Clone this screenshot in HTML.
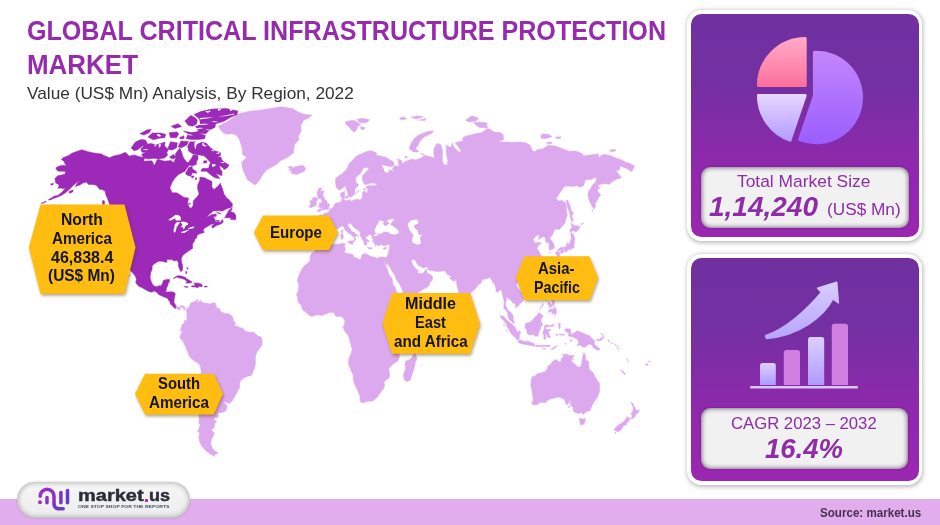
<!DOCTYPE html>
<html>
<head>
<meta charset="utf-8">
<title>Global Critical Infrastructure Protection Market</title>
<style>
html,body{margin:0;padding:0;}
body{width:940px;height:525px;position:relative;overflow:hidden;background:#fff;font-family:"Liberation Sans",sans-serif;}
.abs{position:absolute;}
.t{position:absolute;white-space:nowrap;transform-origin:0 50%;}
#band{position:absolute;left:0;top:498.5px;width:940px;height:26.5px;background:#E2ADEC;}
.pout{position:absolute;background:#fff;border-radius:14.4px;box-shadow:0.5px 1px 4px 0.3px rgba(0,0,0,.27);}
.pin{position:absolute;border-radius:10.5px;background:linear-gradient(180deg,#7030A0 0%,#7330A2 30%,#9427AE 75%,#9B27B0 100%);}
.box{position:absolute;border-radius:9.5px;background:#F1F1F1;box-shadow:inset 0 0 4px 1px rgba(40,10,50,.55),0 0 2px rgba(60,0,80,.5);}
#pill{position:absolute;left:17px;top:481.6px;width:172.5px;height:36px;border-radius:18px;background:linear-gradient(180deg,#f7f7f7,#ececec);box-shadow:inset 0 0 5px 1px rgba(0,0,0,.28),0 0 1.5px rgba(0,0,0,.3);}
</style>
</head>
<body>

<!-- world map -->
<svg class="abs" style="left:0;top:0" width="940" height="525" viewBox="0 0 940 525">
  <path fill="#DDA9EE" stroke="#DDA9EE" stroke-width="0.5" stroke-linejoin="round" d="M226.4 134.3L222.9 132.6L219.8 129.1L218.2 126.3L228.4 120.9L231.9 118.3L237.1 114.3L248.0 111.6L263.0 109.7L281.1 106.7L292.6 108.6L298.2 112.0L303.9 114.3L312.1 115.0L308.1 118.3L303.5 120.2L300.8 125.6L301.2 130.9L298.5 136.1L299.0 139.5L294.7 144.5L293.6 149.4L293.8 152.6L291.6 154.2L287.3 157.4L283.2 159.6L280.7 160.5L277.1 163.9L272.0 167.0L266.8 169.7L263.1 174.2L259.5 180.1L256.6 183.8L254.6 184.9L251.5 182.4L247.6 180.1L245.7 175.7L243.8 172.1L242.1 166.7L241.7 162.1L246.7 157.4L242.4 154.2L242.4 149.4L240.9 144.5L239.4 139.5L236.3 135.0L231.9 133.7ZM290.6 173.3L292.2 171.5L288.7 170.0L292.0 168.8L288.1 167.9L290.7 165.5L292.9 167.9L295.5 166.4L298.7 166.1L302.0 165.2L304.0 166.1L305.7 168.8L304.0 171.5L299.9 173.3L296.5 174.5L294.1 173.9ZM187.2 307.6L188.0 308.8L189.5 306.0L190.5 303.5L191.8 302.2L194.1 301.7L196.4 300.4L197.3 299.2L198.0 300.9L196.9 302.4L197.4 302.6L199.9 301.3L200.3 299.8L200.8 301.3L203.2 302.8L206.9 303.2L209.9 304.1L212.6 303.0L214.6 303.0L216.1 305.6L216.4 307.6L219.6 308.8L220.9 311.4L222.1 312.5L225.7 313.4L228.3 313.6L231.0 315.3L232.7 316.8L233.6 321.7L235.4 322.1L234.5 325.6L238.2 326.4L238.9 327.5L242.4 328.1L245.1 330.7L245.5 331.4L250.4 332.2L253.1 332.0L255.8 333.9L258.1 336.1L261.5 337.1L262.2 341.2L262.1 345.3L259.5 348.5L257.8 351.1L256.1 353.9L255.3 358.3L255.5 363.8L254.4 368.2L253.4 370.4L252.3 373.7L250.6 375.9L248.0 375.9L245.5 377.2L242.9 378.6L240.4 381.1L239.5 383.8L239.7 387.8L237.8 390.6L236.3 394.0L234.4 396.8L232.1 401.0L229.9 403.2L227.7 403.1L224.8 401.9L223.7 401.0L224.0 402.6L226.1 404.5L227.1 406.7L226.1 410.5L223.7 412.1L219.4 412.9L218.2 412.4L218.5 416.5L216.1 418.2L213.9 417.2L214.3 420.2L216.8 421.4L215.4 422.4L214.7 423.9L214.3 427.6L211.2 430.1L214.5 433.2L212.2 437.8L211.0 440.9L210.7 444.6L212.0 446.4L211.7 447.2L214.0 450.5L218.2 452.8L216.2 454.0L213.9 455.3L215.3 456.4L211.4 454.8L207.7 452.3L204.8 449.6L201.8 446.2L199.6 441.7L198.7 436.5L199.8 432.7L197.8 431.9L199.1 427.6L200.4 425.1L199.0 423.6L198.8 421.4L199.2 419.7L198.8 415.3L198.8 411.7L198.2 408.6L199.3 404.5L200.4 399.8L200.6 398.7L200.4 394.0L200.0 389.4L200.6 384.9L201.0 380.4L200.9 377.0L201.2 372.6L200.4 365.7L198.2 363.3L194.5 360.9L191.4 358.7L189.3 355.9L187.6 351.8L185.7 347.5L184.1 343.6L182.5 340.6L180.3 338.9L179.9 336.1L181.6 333.3L182.3 331.4L180.5 330.7L180.9 328.1L181.9 326.0L182.1 324.3L184.1 323.4L184.6 320.6L186.6 320.4L187.0 317.6L186.7 314.2L186.9 311.9L186.0 310.6ZM213.4 303.0L215.3 302.8L215.0 304.3L213.4 304.3ZM175.9 305.4L176.6 306.5L178.7 307.1L180.7 306.0L182.4 305.6L185.0 307.3L185.4 307.6L184.2 310.6L183.2 308.2L181.4 306.7L179.9 308.2L180.4 310.1L178.6 309.9L176.9 308.4L175.2 308.7ZM316.7 246.8L317.7 246.5L319.8 248.2L321.6 247.9L323.1 248.4L325.4 246.8L328.9 245.1L331.4 244.4L334.9 244.4L339.3 243.9L343.4 243.2L345.5 243.7L344.6 245.3L344.8 247.5L345.5 250.3L343.7 251.0L345.7 252.9L348.2 253.8L349.4 253.6L352.9 254.7L353.7 257.0L357.0 258.2L359.7 259.6L361.5 258.0L361.6 255.2L364.1 253.6L366.8 254.3L370.3 255.9L373.9 257.3L377.5 258.2L379.2 257.3L381.0 256.8L383.3 257.3L385.5 257.7L386.9 257.3L388.1 261.4L383.9 260.5L384.0 262.6L385.7 265.3L386.6 267.8L388.5 272.7L389.8 276.1L392.0 278.3L392.6 280.5L392.9 284.9L395.1 287.1L396.4 291.5L397.0 292.4L399.7 294.8L402.5 297.6L404.0 299.1L403.8 301.3L406.2 303.7L410.7 301.9L414.3 301.7L418.3 300.2L418.7 303.5L416.2 308.8L414.5 313.1L412.7 316.4L410.0 320.4L407.8 321.7L404.5 326.0L401.8 328.1L400.9 330.1L398.5 331.8L397.6 334.8L396.3 337.8L396.8 340.6L397.2 344.2L397.7 347.5L398.9 348.5L399.1 352.9L399.4 357.2L397.9 360.9L394.2 363.3L392.2 364.6L390.5 366.8L388.5 368.8L389.5 372.6L389.4 377.7L384.9 381.1L384.1 382.6L384.6 386.0L383.6 388.5L381.1 391.5L379.2 394.7L376.5 398.0L373.8 400.1L373.0 401.0L369.1 401.2L366.4 401.5L362.9 402.9L360.3 401.8L359.9 398.7L360.0 396.3L358.2 391.7L356.8 388.5L354.5 384.2L353.3 379.3L353.3 375.7L351.1 370.4L348.8 364.9L348.4 361.6L349.7 356.1L351.3 353.1L352.1 349.2L351.0 344.9L349.4 339.1L348.8 336.7L347.0 334.1L344.6 331.1L343.4 328.1L342.8 327.5L344.3 324.9L344.6 322.8L344.8 320.6L343.1 317.9L341.5 316.4L340.6 316.4L338.2 316.6L336.4 316.8L334.6 314.2L333.5 312.5L331.7 312.3L328.4 312.7L327.4 313.4L325.2 314.1L321.9 315.8L319.7 315.1L317.4 314.9L314.6 315.5L311.9 316.6L309.2 315.3L305.9 312.5L304.7 311.2L302.9 309.9L301.6 307.8L301.5 305.6L299.3 303.5L298.4 302.4L297.7 299.4L297.6 297.0L296.4 294.4L298.1 291.5L298.6 287.1L298.8 284.1L297.4 281.0L297.7 278.8L299.3 274.5L301.9 269.1L304.5 265.5L307.0 263.7L309.6 261.4L310.1 259.1L310.0 256.8L311.1 254.3L312.3 252.6L313.8 251.9L315.1 250.8L316.1 248.4ZM414.8 351.8L416.5 357.2L416.9 359.4L415.5 361.6L414.9 364.9L413.5 370.4L411.9 374.8L410.3 379.9L407.2 381.7L404.6 380.4L403.6 377.0L403.5 373.7L405.4 369.9L405.6 368.2L405.0 363.8L406.0 360.9L409.3 359.8L412.0 357.6L413.3 355.0ZM316.7 245.9L315.0 245.1L313.1 243.4L310.3 243.9L310.8 240.6L309.6 239.6L310.7 236.2L311.1 233.8L310.9 231.3L310.2 229.4L312.5 227.5L316.3 227.9L319.8 228.3L323.3 228.4L323.8 227.9L324.4 225.4L324.6 222.9L324.5 221.4L322.9 219.3L321.8 218.1L319.0 217.3L318.4 215.8L320.7 214.7L323.9 215.1L324.0 212.5L324.8 213.3L326.9 212.9L329.3 211.3L329.5 209.3L331.0 208.7L332.7 207.9L333.6 206.4L334.8 204.0L336.2 202.9L338.7 202.6L340.6 202.1L341.4 201.3L342.0 198.6L340.6 195.6L340.8 192.8L343.0 192.3L344.8 190.9L344.5 194.2L345.3 194.5L343.8 196.9L343.1 198.6L343.8 199.7L345.5 199.9L345.5 201.0L347.7 200.2L349.7 199.7L351.1 201.3L354.8 199.7L358.1 199.0L359.0 200.1L360.7 199.7L362.3 197.5L362.2 194.2L363.0 191.4L364.8 190.9L365.9 192.8L367.2 192.7L367.8 189.2L366.3 188.1L366.2 186.6L368.2 185.8L371.2 185.5L373.7 185.8L377.3 184.7L375.3 183.8L374.4 182.9L370.3 183.2L368.6 183.8L365.4 184.8L363.7 183.2L362.4 180.1L362.2 177.1L362.7 175.4L365.1 173.0L367.4 170.3L368.8 169.4L368.1 167.9L366.8 167.3L363.6 167.9L362.2 170.6L360.7 173.3L357.8 175.7L355.8 177.4L355.7 181.5L355.7 182.4L357.9 183.8L358.7 184.9L357.6 186.4L355.5 188.1L355.0 190.6L354.5 193.6L353.5 195.3L351.0 196.9L348.9 197.2L348.3 195.0L347.5 192.8L347.0 190.9L345.8 187.2L344.8 184.7L344.3 186.9L342.2 188.3L340.5 189.7L338.8 190.0L336.5 187.8L335.7 184.4L335.6 181.5L335.6 178.6L337.6 176.8L339.8 175.1L342.2 173.9L343.9 171.8L346.3 169.7L347.9 166.7L349.0 163.6L351.1 161.8L352.7 159.9L354.3 158.3L355.8 156.5L358.2 154.9L361.3 153.9L365.3 152.0L368.8 150.7L372.3 151.0L375.6 152.6L377.2 153.3L375.7 154.9L378.1 155.5L380.5 156.1L385.3 157.1L389.5 159.6L393.6 162.1L394.1 164.9L392.3 166.4L389.1 166.4L384.2 165.2L380.9 164.6L380.1 163.3L381.8 165.8L384.1 169.7L384.0 171.5L387.0 173.0L389.4 172.1L388.5 169.7L390.1 170.3L393.4 170.9L392.4 167.9L395.5 165.5L399.1 166.7L398.6 163.6L397.9 159.0L397.0 158.5L401.5 160.5L402.6 163.9L404.8 161.8L407.9 160.5L412.6 159.0L415.1 159.9L418.9 158.7L422.0 157.7L424.1 155.2L429.8 156.5L433.2 157.7L434.8 158.0L434.0 155.5L433.7 152.0L434.0 148.4L435.9 145.1L437.5 143.2L440.8 144.8L442.3 149.4L442.5 155.8L442.3 160.5L443.8 164.9L447.0 164.9L447.9 160.5L446.3 154.2L446.4 147.8L445.6 145.1L449.8 147.1L451.3 146.8L452.2 142.8L453.7 146.8L457.5 151.0L461.0 152.6L460.5 150.1L457.6 146.1L455.3 142.5L462.8 141.1L462.9 137.4L467.2 135.7L474.5 134.0L481.8 132.6L487.4 128.4L491.1 129.8L493.9 131.9L500.2 132.6L503.1 134.7L503.5 139.5L499.3 141.1L493.7 143.8L498.6 141.5L504.2 142.1L508.1 142.1L512.9 142.5L519.8 142.1L525.4 142.8L530.0 145.1L532.3 150.4L535.0 151.7L537.5 149.4L542.1 149.1L546.8 146.5L548.0 145.1L557.0 146.5L564.3 149.4L568.9 151.3L575.9 151.0L581.4 153.3L583.9 155.8L588.5 155.2L594.5 154.2L598.3 153.9L598.8 157.4L602.5 154.5L607.4 154.9L611.9 156.1L614.9 157.7L620.3 159.3L625.5 162.1L630.1 163.6L634.9 166.4L633.5 167.9L632.3 170.9L631.4 171.5L626.3 168.2L619.7 165.8L620.1 166.7L619.6 169.7L618.2 170.3L615.9 170.6L618.9 174.2L621.5 177.7L616.6 179.2L612.5 181.5L609.0 184.4L604.9 183.5L600.2 184.4L598.0 184.9L598.8 188.6L597.2 190.6L600.8 195.0L598.9 196.9L597.0 201.0L595.2 203.7L595.6 206.4L593.6 209.0L591.4 205.0L589.0 199.7L587.8 194.2L588.9 190.6L590.8 188.6L592.2 185.2L594.8 182.9L596.4 180.1L596.2 177.1L593.4 178.6L590.9 179.5L585.5 179.5L583.9 184.9L583.3 185.8L579.6 187.2L577.5 185.8L572.7 186.4L568.5 186.1L564.4 186.4L561.4 190.6L559.0 194.2L556.0 198.8L559.0 201.0L562.3 200.5L565.8 203.2L566.3 206.4L566.4 210.3L567.2 215.5L565.8 219.3L564.9 223.1L562.1 226.4L559.3 229.4L555.6 229.1L553.8 231.1L552.9 234.3L551.0 236.7L549.5 237.9L551.2 240.1L553.8 243.9L554.3 247.5L553.8 248.4L551.8 249.4L549.4 250.1L549.0 247.5L549.2 245.1L548.7 242.7L546.1 242.0L545.2 241.1L545.6 237.9L543.8 236.7L540.7 237.9L538.7 239.6L539.3 235.5L537.6 234.8L535.3 237.2L533.0 238.9L534.3 241.5L535.4 243.2L537.9 242.3L541.5 243.0L539.1 244.9L538.1 246.3L536.7 248.7L538.8 251.0L540.3 254.5L542.4 256.8L542.0 259.1L540.8 259.6L543.0 260.3L542.9 263.7L541.3 266.0L540.1 269.4L538.1 272.5L535.6 275.0L533.1 276.8L530.5 277.6L528.7 278.3L526.1 279.4L524.2 279.9L524.0 282.1L522.9 279.4L520.7 279.0L518.1 280.5L517.5 282.3L516.3 284.9L517.7 287.6L520.3 291.1L522.4 293.1L523.3 297.0L523.5 300.2L521.7 302.6L519.4 303.7L519.0 305.6L515.6 307.6L515.8 304.5L514.5 303.5L512.7 303.0L511.1 300.2L508.4 298.7L507.9 297.2L506.5 297.4L506.4 300.2L505.5 303.0L505.6 306.0L507.1 307.8L507.9 310.6L509.7 311.4L511.2 312.7L513.2 315.7L513.3 319.6L514.7 323.0L513.5 323.2L511.3 321.3L509.5 319.6L508.1 316.4L507.6 313.6L507.2 312.1L505.5 309.5L503.8 308.8L503.9 305.6L504.2 303.5L504.1 300.2L503.0 297.0L502.2 293.7L501.8 290.4L500.3 289.8L497.9 292.0L495.9 291.5L495.9 288.2L495.0 284.9L493.1 282.7L491.1 279.4L490.6 277.4L488.3 277.9L485.7 279.0L483.0 279.2L482.0 281.0L481.0 283.0L478.8 284.3L477.1 286.5L474.2 290.0L472.3 291.5L470.5 293.1L470.5 297.0L470.9 297.8L470.3 301.3L470.2 303.9L468.8 306.0L467.3 307.1L466.2 308.7L464.2 306.7L463.6 304.5L462.7 301.5L461.1 298.3L459.7 294.1L458.7 292.2L457.9 289.3L456.8 284.9L456.5 281.6L456.2 279.4L456.0 278.3L455.4 280.5L453.2 281.2L450.3 278.8L449.7 277.6L451.9 276.3L449.2 275.4L446.8 274.1L445.8 272.1L444.8 270.7L441.3 271.2L436.8 271.4L434.1 270.9L431.0 270.5L428.3 269.8L427.7 267.3L426.4 266.9L423.2 268.0L419.8 266.0L417.8 265.1L416.4 262.6L414.9 259.8L412.7 259.6L411.4 260.7L411.4 261.9L412.8 264.8L414.3 267.1L415.6 268.2L416.6 270.5L416.8 272.1L417.0 269.1L418.2 270.9L417.7 272.7L419.0 273.6L422.6 273.4L424.8 270.9L426.2 269.1L426.7 268.6L426.8 271.6L427.4 273.2L430.9 274.8L433.1 277.2L431.5 281.2L429.7 282.3L429.6 284.9L427.5 287.1L425.2 288.2L423.1 289.3L419.9 291.5L416.0 293.7L413.7 295.9L409.7 297.2L407.0 298.5L404.3 298.7L403.7 297.0L403.0 293.7L402.5 290.4L401.0 287.1L399.2 283.6L396.2 279.4L394.8 275.0L392.6 272.3L391.1 269.4L389.2 266.0L387.9 264.2L388.2 261.4L387.2 264.8L387.0 265.4L385.1 263.2L383.9 260.5L383.3 257.3L386.0 257.7L386.9 257.0L387.7 255.2L388.2 253.1L388.8 251.2L389.4 248.2L389.6 246.3L389.9 244.6L388.6 244.9L387.0 244.4L385.1 246.1L382.5 245.1L380.2 244.3L379.7 245.6L377.6 245.6L375.8 244.4L374.3 243.9L374.0 242.0L372.3 240.8L373.4 239.6L373.0 238.4L371.9 237.9L372.1 236.7L371.7 235.0L369.9 234.5L368.2 235.0L367.9 236.7L367.2 236.2L366.3 235.5L365.8 236.7L366.3 238.4L367.1 239.9L368.3 241.1L368.3 242.3L367.4 241.5L366.6 241.8L366.9 243.2L366.8 245.1L365.8 245.3L364.3 244.4L363.6 242.3L364.3 241.1L363.2 240.8L362.5 239.4L361.6 237.7L361.1 237.0L360.2 235.5L360.3 233.1L360.1 232.1L358.6 230.8L356.8 229.4L354.9 228.1L352.8 226.4L352.1 224.4L351.2 223.6L350.5 224.9L350.0 222.9L347.9 223.4L347.8 225.6L348.4 227.1L350.0 228.1L351.1 230.6L352.8 232.1L354.6 232.1L354.2 233.3L356.0 234.0L357.7 235.3L358.6 236.5L358.3 237.2L357.6 236.0L356.3 235.5L355.3 236.7L355.1 237.7L356.2 239.1L355.1 240.3L354.4 241.7L353.7 241.5L353.7 240.9L354.4 239.6L354.3 237.9L353.5 236.6L352.5 236.2L351.6 235.3L351.1 234.8L350.0 233.7L348.3 233.2L347.6 232.3L346.5 231.1L345.7 230.8L344.6 229.4L344.3 228.1L343.9 226.9L342.6 226.1L341.7 225.9L340.6 227.0L339.4 227.4L338.4 228.4L337.2 229.1L335.6 228.6L333.7 228.1L332.5 228.6L331.6 229.9L331.9 231.1L331.9 232.1L330.2 233.3L328.0 234.3L327.7 235.0L326.4 236.7L325.7 238.2L326.6 239.7L325.3 240.8L324.9 242.5L323.0 243.9L322.3 244.6L320.0 244.6L318.4 244.6ZM317.0 211.5L319.1 209.0L321.7 208.5L322.2 207.7L321.3 207.9L319.7 207.4L317.8 206.6L319.9 205.0L318.9 204.2L319.1 202.9L321.6 202.9L321.9 201.3L321.1 199.7L321.4 198.6L318.7 199.1L318.4 198.3L319.1 196.7L317.6 197.5L317.7 194.7L316.7 193.6L317.6 191.4L318.9 188.3L322.2 188.2L320.3 191.3L323.8 190.9L324.1 191.4L323.6 192.5L322.7 194.7L321.7 195.6L323.5 195.8L324.3 197.8L324.9 199.4L326.8 200.7L327.1 202.1L327.4 203.7L329.1 203.8L329.8 205.0L328.8 206.9L328.0 207.7L329.2 208.1L329.0 208.7L327.3 209.6L324.7 209.6L323.3 210.0L321.6 209.8L320.6 211.1L317.8 211.7ZM316.4 202.9L316.0 205.8L312.7 206.9L310.1 207.8L309.2 206.1L310.4 204.8L311.0 203.4L310.0 202.4L310.1 200.5L312.6 200.2L312.3 199.1L313.2 197.8L314.7 197.3L316.7 197.8L317.7 199.4L317.7 200.2L316.6 201.0ZM345.8 196.4L348.2 195.3L348.0 197.5L346.8 198.6L345.5 197.5ZM343.5 196.9L345.2 196.9L345.0 198.3L343.8 198.3ZM357.5 191.7L358.8 190.2L358.5 192.0L357.5 192.8ZM354.5 194.7L355.7 192.0L354.9 194.5ZM363.6 189.2L365.8 188.3L365.3 189.5L363.8 190.0ZM345.0 122.0L352.2 120.2L356.0 121.3L360.6 124.5L357.6 126.6L356.9 129.1L354.7 132.3L351.6 130.2L349.6 127.4L346.3 124.5ZM356.7 119.4L361.9 118.3L369.5 119.8L366.6 122.7L359.8 122.7ZM360.7 126.6L365.3 127.7L363.8 129.8L360.7 129.1ZM399.3 118.0L403.7 116.9L406.9 119.1L401.0 119.8ZM411.2 117.2L418.4 115.7L423.0 116.9L415.9 119.1ZM419.0 120.2L426.2 118.3L425.0 120.5ZM409.1 148.4L411.0 143.5L414.3 138.4L417.8 135.4L423.7 133.0L429.5 130.9L434.1 131.2L430.0 134.3L424.2 136.7L420.1 141.1L418.2 145.1L415.7 148.4L419.0 152.0L413.5 152.0ZM420.7 153.3L423.7 154.2L422.5 155.2ZM404.8 156.5L407.2 156.5L406.9 158.0L405.3 158.0ZM465.5 120.2L472.0 115.7L478.6 118.3L476.1 120.9L468.9 122.0ZM473.5 122.7L479.4 122.0L487.2 123.1L486.5 126.3L479.1 127.4ZM480.6 127.4L488.0 126.3L486.9 128.1ZM540.6 136.7L542.0 134.0L548.3 134.3L552.1 136.4L546.6 138.4L541.9 138.4ZM555.4 137.1L560.7 136.7L560.5 138.4L555.9 138.4ZM546.4 142.8L550.8 141.8L552.1 143.5L547.5 143.8ZM609.4 150.1L615.4 149.4L615.8 151.0L610.9 151.7ZM566.4 200.2L567.5 199.9L569.8 205.0L571.0 210.3L574.0 213.7L571.7 214.7L572.4 218.6L573.8 220.4L572.4 220.4L571.8 222.1L570.6 218.1L569.7 212.9L567.8 207.7L566.6 202.9ZM591.8 209.8L593.1 210.0L592.2 211.3ZM580.7 223.9L583.5 222.9L582.6 224.6ZM578.7 226.9L580.2 225.6L579.7 227.4ZM598.7 187.2L600.5 187.8L599.5 188.6ZM570.9 233.1L569.8 230.1L570.2 228.6L572.0 228.9L571.3 223.1L574.1 225.6L578.2 226.1L579.6 228.4L576.3 231.8L575.9 232.0L572.8 230.4L571.8 231.1L572.1 232.6ZM572.9 233.3L573.5 235.5L574.8 237.9L574.5 240.8L574.2 243.9L573.9 246.3L574.4 247.0L573.1 248.9L572.5 247.7L571.6 248.4L571.3 249.6L570.2 249.6L568.1 249.6L567.8 250.3L567.1 251.2L566.4 252.3L565.0 251.2L565.0 250.3L565.0 249.4L562.8 249.6L561.1 250.3L560.1 250.5L557.7 251.1L557.6 250.1L559.1 248.7L560.7 247.5L563.3 247.2L565.6 247.2L565.8 246.3L566.7 244.4L566.6 243.0L567.5 242.7L567.6 244.4L569.7 243.2L570.2 241.5L571.2 239.1L571.1 236.7L570.7 235.3L571.1 233.8L572.3 233.8ZM560.4 252.4L560.9 251.0L562.9 250.1L564.2 250.5L564.3 251.5L563.6 252.6L562.3 252.2L561.7 253.9ZM557.6 251.2L559.1 251.9L559.8 253.3L559.3 256.8L558.2 258.0L557.2 257.0L556.9 255.2L555.8 254.0L555.5 252.6L556.8 251.9ZM554.2 269.1L555.1 267.6L554.7 268.7ZM549.4 252.6L550.6 252.2L550.2 252.9ZM543.5 270.9L544.1 271.6L543.7 275.0L542.9 278.5L541.5 276.1L541.4 273.9L542.5 271.5ZM521.5 284.3L523.0 282.7L524.9 282.5L525.6 283.6L524.6 285.8L523.1 286.7L521.6 285.8ZM470.2 305.0L470.9 305.0L472.8 307.6L474.1 310.4L473.8 312.1L471.8 313.3L470.7 312.5L470.1 308.8L470.4 306.7ZM422.0 298.7L424.2 298.9L423.3 299.6L422.2 299.4ZM348.0 241.5L349.5 241.1L353.6 240.8L352.7 243.2L352.7 244.6L351.3 243.9L348.1 242.5ZM340.6 234.3L342.4 233.7L343.4 235.5L343.0 238.6L341.8 239.4L340.9 238.6L341.0 236.0ZM341.3 230.8L342.7 229.4L342.9 231.6L342.4 233.3L341.3 232.1ZM367.5 247.2L370.2 247.7L372.5 247.9L372.3 248.7L369.7 248.9L367.6 248.1ZM383.1 248.5L384.3 247.8L387.1 247.0L386.1 248.7L384.4 249.6L383.3 249.1ZM374.9 245.8L375.8 245.3L375.5 246.5ZM366.9 239.4L369.4 241.3L368.7 241.5ZM371.6 238.6L372.8 238.4L372.3 239.1ZM544.5 287.5L547.4 287.5L547.8 290.8L546.8 293.5L547.1 296.3L548.9 296.7L551.4 297.8L551.7 300.4L550.2 299.6L548.7 298.2L547.2 297.6L545.4 297.8L545.1 295.9L544.0 295.2L543.4 292.4L544.5 291.7L544.3 289.7ZM554.3 306.5L556.1 309.3L556.7 311.9L556.0 314.0L554.6 315.5L555.1 312.5L552.4 314.2L552.0 312.5L550.9 311.2L548.6 312.7L548.7 310.3L550.8 308.8L553.2 309.3ZM552.1 300.6L553.9 300.6L554.7 303.4L553.9 305.6L553.2 306.0L552.4 303.0ZM548.0 302.1L550.0 302.6L550.6 305.0L550.4 308.0L549.1 307.1L549.2 305.0L547.9 305.0ZM550.6 305.2L551.6 303.4L552.7 306.0L551.6 306.9ZM544.7 298.5L546.9 298.9L546.5 301.3L545.7 300.6ZM539.6 309.5L543.6 304.7L543.1 303.4L541.8 306.0L539.6 309.1ZM526.0 323.2L529.1 322.4L532.2 320.9L534.0 317.9L536.7 315.7L538.9 312.5L540.6 313.8L543.4 316.1L541.1 318.5L540.9 321.1L543.1 325.4L541.1 325.8L540.4 329.2L538.8 332.4L538.0 336.1L535.1 336.3L533.1 334.6L530.0 335.0L527.1 333.7L526.8 330.3L525.2 328.1L525.0 325.4ZM500.0 315.5L504.0 316.4L506.2 319.4L509.2 322.1L511.9 323.9L514.1 326.0L515.5 327.9L516.8 331.4L519.5 332.9L519.5 335.0L519.0 339.9L516.9 340.1L516.3 338.2L512.8 335.6L510.2 332.2L509.2 329.4L506.8 326.4L506.1 323.6L503.5 320.4L501.3 318.3ZM518.1 331.1L519.9 331.1L520.8 333.9L519.5 333.5ZM503.4 324.5L504.8 325.6L504.1 326.2ZM506.1 329.6L507.3 330.9L506.8 331.4ZM517.9 342.1L519.6 340.1L521.2 340.1L523.9 341.4L528.3 341.2L531.5 342.5L534.7 344.0L534.5 346.2L529.2 345.3L523.8 344.2L520.0 343.4ZM535.6 345.1L539.2 345.3L542.8 345.3L550.1 345.1L550.1 346.4L541.0 346.6L535.7 346.4ZM550.8 349.6L553.6 347.2L557.9 345.5L556.4 347.0L552.7 349.4ZM542.7 347.9L546.0 348.7L544.5 349.4L542.7 348.3ZM544.6 325.8L546.4 324.7L550.4 325.5L553.7 324.3L554.4 324.5L552.8 326.6L550.4 326.4L546.8 326.5L545.1 329.0L547.7 329.4L550.9 329.4L550.0 330.9L548.0 331.6L549.1 334.6L550.7 337.1L549.0 337.8L547.8 337.6L546.7 334.4L545.6 333.7L545.5 339.3L543.9 339.3L543.8 335.0L542.7 333.3L543.7 330.1L544.6 327.1ZM558.6 323.2L559.5 323.0L560.7 324.3L559.5 325.8L560.7 326.9L559.3 329.2L558.7 326.4ZM559.4 333.9L564.5 334.4L564.0 335.4L559.4 334.8ZM555.8 334.1L558.0 334.6L557.0 335.6L555.8 335.0ZM570.6 339.3L571.7 339.9L571.1 342.1L570.4 341.0ZM565.2 342.9L566.1 343.6L565.3 344.7L564.8 344.0ZM564.9 329.2L567.6 328.4L570.4 329.2L570.7 332.4L572.1 334.6L574.9 332.2L577.4 330.7L580.3 332.0L583.1 333.1L586.7 334.8L589.4 335.6L591.7 338.2L593.8 340.1L595.2 341.9L593.7 342.1L594.2 343.6L595.8 345.9L597.7 347.0L600.3 349.6L598.8 350.3L595.2 349.2L593.5 347.9L591.8 345.1L589.1 344.0L587.3 345.3L585.4 347.2L582.7 347.0L580.0 344.9L576.7 345.5L578.8 342.9L577.5 339.3L573.0 337.1L568.5 336.1L568.2 333.9L569.8 332.9L566.7 332.2L564.9 330.5ZM596.2 339.5L599.6 339.3L603.0 336.5L603.5 338.0L600.7 340.8L597.4 340.8ZM600.8 333.1L603.9 335.6L604.8 337.6L604.1 336.1L600.8 333.5ZM607.8 339.3L609.9 342.1L608.6 341.6ZM611.1 342.5L612.7 343.4L611.8 343.8ZM616.4 347.5L618.5 348.5L617.0 348.5ZM618.4 345.5L619.4 347.5L618.6 346.8ZM614.5 343.8L616.8 345.5L615.4 345.1ZM626.7 358.3L627.6 359.6L626.9 359.8ZM627.6 360.5L628.5 361.6L627.8 361.8ZM620.9 369.5L623.3 371.5L625.7 374.4L624.4 374.4L621.1 370.6ZM645.4 364.0L647.8 363.8L647.5 365.3L645.5 365.1ZM648.4 361.6L650.6 360.9L649.6 362.2ZM584.2 352.7L585.4 356.0L586.0 360.2L588.6 361.5L588.7 364.8L589.5 369.7L593.2 372.6L594.6 376.0L596.5 379.3L599.4 383.3L599.6 387.2L599.7 391.0L597.9 396.0L595.9 399.4L593.9 402.3L591.9 405.7L590.3 410.0L590.0 410.7L586.5 411.6L583.3 414.4L581.2 412.7L580.8 412.3L578.5 413.7L575.3 412.5L573.5 411.4L573.0 408.4L572.8 406.6L571.3 406.3L571.6 404.5L570.2 405.4L570.1 402.7L571.2 400.5L571.1 399.6L569.4 402.0L567.1 404.7L566.0 403.8L564.8 400.5L564.2 398.7L561.4 398.2L560.1 397.1L556.3 397.4L550.9 398.9L547.3 400.5L546.1 402.5L543.4 402.5L540.1 402.5L536.4 405.0L532.9 404.7L531.5 403.4L532.9 401.1L533.2 398.2L532.4 394.9L532.1 391.2L531.4 387.9L530.7 385.1L531.0 382.9L531.0 381.2L531.9 377.8L532.9 376.0L533.7 377.1L535.3 375.4L537.7 373.5L540.9 372.9L545.3 371.4L547.6 368.4L547.9 365.9L549.3 364.6L550.2 366.5L550.4 364.0L553.4 360.8L556.3 359.4L558.6 361.7L560.9 361.5L561.2 359.0L563.1 356.5L565.3 354.0L566.7 354.2L568.3 355.0L571.2 355.6L574.2 355.4L572.5 358.1L571.4 361.3L573.9 363.4L576.0 365.2L577.6 366.9L580.3 366.9L581.6 363.8L582.2 359.6L582.8 356.5L583.5 353.3ZM579.7 418.1L582.5 419.0L585.5 418.3L585.1 421.1L583.8 424.0L581.8 424.9L580.5 424.7L579.8 421.6L579.4 419.3ZM568.0 406.6L570.0 406.6L569.6 407.2L568.0 407.2ZM562.5 354.2L564.5 354.0L563.9 355.0L562.7 355.0ZM573.1 359.2L574.0 359.2L573.8 360.2L573.1 360.0ZM631.3 401.9L632.4 403.3L633.6 404.1L633.8 407.6L635.0 406.9L635.4 409.5L637.3 410.5L639.9 409.7L638.3 412.1L637.9 413.1L635.9 414.1L635.2 416.5L631.9 419.2L631.0 418.5L632.3 416.3L632.1 414.8L630.6 413.6L632.3 412.4L633.2 409.3L632.9 406.7L631.6 403.8ZM628.0 416.5L628.2 418.5L630.5 417.7L629.7 419.7L628.6 421.2L626.6 423.1L626.7 424.6L623.3 425.9L621.2 429.9L618.8 431.6L616.6 431.6L615.4 430.6L613.7 429.9L616.8 426.6L618.4 425.1L621.1 423.6L623.3 422.1L625.2 419.4L626.7 417.5ZM615.0 432.2L616.2 432.4L615.6 433.4L614.8 433.2Z"/>
  <path fill="#9C29B7" stroke="#9C29B7" stroke-width="0.5" stroke-linejoin="round" d="M55.7 167.9L59.1 166.1L63.5 165.2L66.7 166.1L64.7 163.3L64.2 161.5L61.4 159.4L63.0 157.7L69.2 155.2L71.7 153.3L81.7 149.7L88.0 151.7L93.9 153.0L101.4 153.9L104.0 155.5L109.6 157.7L113.3 156.1L120.2 154.5L125.3 152.3L129.2 156.1L134.4 154.9L138.7 156.5L144.7 157.7L143.6 161.2L151.7 160.8L154.1 163.9L157.8 159.3L164.5 161.2L171.0 160.5L173.7 162.7L175.7 157.7L175.5 153.6L179.8 148.1L181.8 152.6L182.6 155.8L184.2 159.0L186.7 162.1L188.1 162.7L191.5 158.3L193.1 154.9L197.8 155.2L198.1 159.0L196.3 162.1L196.6 164.2L193.1 165.8L189.2 165.2L186.9 168.2L184.9 171.2L180.9 173.3L179.0 174.2L175.9 177.1L172.5 181.5L169.9 187.8L172.1 192.8L176.7 192.8L179.7 194.5L184.1 197.5L188.5 198.0L187.5 203.7L189.2 206.9L190.9 208.5L193.1 205.6L193.2 201.0L197.8 196.1L199.0 193.4L197.5 188.6L197.8 184.4L199.9 180.1L199.8 177.1L204.5 177.7L209.0 180.1L212.0 181.5L211.9 187.2L214.0 189.5L218.4 185.8L220.3 183.2L222.4 188.6L224.1 194.2L226.9 198.3L229.2 199.7L229.9 201.0L232.4 203.7L232.2 206.4L230.7 207.7L227.2 208.5L222.6 211.1L217.5 210.8L213.2 211.1L209.4 214.2L206.3 217.5L203.9 219.8L207.2 217.0L211.9 214.5L216.2 213.9L216.3 216.3L213.3 216.8L214.7 218.8L215.3 221.4L216.9 222.1L220.3 222.6L222.4 219.3L223.3 221.9L221.0 223.9L216.5 225.6L212.7 228.1L211.6 227.1L212.5 225.4L215.0 223.6L213.2 223.9L210.5 224.6L206.8 226.9L204.6 227.9L203.2 230.4L204.4 232.3L202.5 233.1L199.8 233.8L197.0 235.3L196.7 237.9L194.7 239.6L194.3 241.5L192.5 243.9L192.5 246.3L192.8 248.2L190.9 249.6L188.3 251.2L185.8 252.9L182.5 255.7L181.2 259.1L181.6 262.6L182.3 264.2L182.8 267.6L182.1 270.9L180.6 271.4L179.5 269.1L178.3 265.5L178.4 262.6L176.8 260.3L175.5 260.7L173.7 261.0L172.1 259.4L169.4 259.6L166.7 259.8L167.0 262.3L164.7 262.1L162.1 261.2L158.6 261.2L156.7 262.3L153.8 264.2L152.2 266.0L152.0 269.4L150.7 272.7L150.1 277.6L150.9 280.8L152.6 284.5L154.8 286.3L156.2 286.7L159.0 285.8L160.8 286.0L162.6 283.2L163.2 280.5L166.7 279.4L169.4 279.4L169.5 281.6L168.1 283.8L167.4 286.5L166.4 288.2L166.4 290.4L165.1 291.7L167.6 292.0L171.2 291.7L173.9 292.2L175.3 293.7L174.6 297.0L174.1 300.2L174.0 302.4L175.2 304.5L175.9 305.4L175.2 308.7L175.0 308.2L173.8 307.6L171.7 305.0L170.1 303.9L170.2 302.2L168.1 299.4L167.1 298.1L164.6 297.2L162.0 296.1L159.0 294.8L156.1 291.7L154.3 291.1L151.3 292.2L147.8 290.9L145.2 289.6L141.7 287.4L139.1 286.5L136.6 284.1L135.7 281.9L136.5 279.4L135.5 276.5L133.1 273.2L130.2 270.3L129.5 267.1L127.8 264.8L125.6 261.4L124.8 258.0L122.4 256.4L122.0 259.1L124.0 263.0L125.8 267.1L127.2 270.5L128.1 273.4L129.3 275.6L128.5 276.3L127.9 275.0L125.1 272.5L125.1 269.4L123.0 267.6L121.0 265.3L122.3 263.5L120.0 259.6L118.9 256.4L118.3 254.3L116.7 251.0L113.0 249.8L111.5 244.9L111.0 242.0L109.5 237.9L109.1 235.7L110.2 231.8L110.0 229.4L112.6 221.4L112.7 215.8L115.5 216.3L115.9 218.6L116.7 216.3L116.0 214.2L114.1 211.6L110.5 209.0L109.8 205.0L108.3 201.0L107.4 198.3L106.0 195.6L105.2 191.4L102.4 189.5L99.8 189.5L96.3 185.2L92.4 184.4L88.3 184.4L86.6 182.1L83.0 182.9L79.8 184.9L75.4 186.6L77.2 182.9L80.4 180.9L76.6 182.4L72.9 185.8L70.3 188.6L65.5 192.8L61.2 195.6L56.3 197.5L52.5 198.8L48.9 199.7L54.3 196.1L57.8 195.6L62.6 191.4L65.5 188.1L63.1 188.6L60.5 188.1L57.9 188.3L59.1 185.8L58.5 184.4L55.7 182.9L55.2 180.1L54.9 178.6L57.7 175.7L61.2 175.1L64.8 174.2L65.8 171.5L62.7 171.2L58.8 171.2L57.2 170.6ZM173.2 278.5L176.8 276.1L177.7 275.8L181.3 275.9L185.7 277.6L186.5 278.8L189.6 280.3L192.2 282.2L189.8 283.0L185.8 283.1L187.0 281.2L184.6 279.4L181.1 278.3L178.8 277.9L177.1 277.0L175.0 278.1ZM191.6 285.8L195.2 285.8L194.6 284.3L193.6 283.2L196.6 283.0L199.8 283.4L201.4 284.3L202.4 285.6L202.0 286.7L199.7 286.2L196.9 288.0L196.2 286.9L192.6 286.9L191.4 286.4ZM184.5 286.2L188.1 286.8L187.0 287.5L184.7 287.0ZM204.6 286.0L207.4 286.3L207.0 287.1L204.5 287.1ZM185.8 271.4L186.7 271.6L186.7 273.9L185.6 273.2ZM186.8 267.3L188.2 268.2L187.7 269.4L187.1 268.5ZM224.7 217.8L227.1 213.4L229.0 210.3L232.3 207.4L231.6 210.3L230.2 211.6L231.9 211.9L234.3 212.9L235.8 215.2L236.0 217.8L235.1 220.2L233.6 219.6L230.5 219.6L231.2 218.1L227.8 217.8ZM216.5 211.9L221.0 213.9L218.0 213.4ZM215.6 220.1L219.7 220.7L218.7 221.9L216.5 221.1ZM108.0 209.5L112.9 211.6L115.1 215.8L112.6 215.5L111.1 213.4L108.2 211.1ZM102.6 200.5L104.6 201.0L104.2 205.8L102.5 203.7ZM69.1 191.4L73.1 190.0L73.0 191.7L69.5 193.4ZM50.8 183.8L53.5 183.5L52.8 184.9L50.8 184.9ZM48.6 199.4L52.0 198.3L52.1 199.1L48.9 200.2ZM43.2 202.4L46.2 201.0L46.1 201.8L42.9 203.2ZM41.0 203.4L42.9 202.4L42.6 203.2ZM229.0 164.9L227.5 167.6L223.9 169.7L223.3 168.2L219.0 165.2L220.6 169.7L222.0 171.2L221.9 175.7L215.9 173.5L219.9 178.6L215.9 178.0L212.9 176.6L210.0 174.2L206.5 171.2L200.8 171.2L202.2 168.5L208.7 168.2L209.3 165.2L210.6 162.7L208.0 159.6L204.0 155.8L201.0 155.2L194.1 154.2L191.9 153.3L188.5 151.0L187.7 146.1L190.0 141.8L196.2 141.8L196.3 144.5L202.3 142.1L206.7 143.5L208.6 145.8L211.1 148.4L215.3 151.0L220.5 152.6L220.6 156.5L222.2 160.5L225.1 162.7ZM141.0 149.1L144.7 144.8L150.6 143.5L156.4 144.8L159.8 143.8L165.0 142.1L164.6 146.1L168.4 149.4L166.8 152.6L167.6 155.2L164.5 158.0L158.7 159.0L154.0 158.3L147.5 159.0L143.2 157.4L141.7 154.2L146.3 152.3L150.9 152.6L142.3 152.3L141.2 151.0ZM131.1 147.9L135.4 142.1L141.0 139.5L145.4 140.1L147.5 143.5L141.8 146.5L137.6 149.7L134.2 150.7ZM148.0 137.1L152.4 133.0L160.0 133.0L165.7 134.3L164.7 137.8L160.0 138.1L153.3 139.8ZM139.9 133.7L147.3 129.8L151.2 129.5L149.4 132.6L144.0 135.0ZM170.2 137.4L169.3 132.6L177.2 131.9L178.8 134.3L176.3 137.8L172.5 137.8ZM168.1 147.8L170.5 141.8L177.3 142.8L176.7 147.8L172.2 150.1L168.4 149.4ZM178.2 147.1L180.8 141.1L188.5 141.5L186.8 145.1L181.4 147.8ZM169.5 157.1L173.4 154.5L176.1 156.5L173.8 159.0L170.8 158.3ZM185.9 172.7L188.6 167.6L192.1 166.4L192.4 168.8L196.0 171.2L196.8 173.3L192.4 172.7L190.8 176.3L187.8 175.4L185.6 173.9ZM186.1 138.8L188.2 133.7L183.5 131.2L192.3 132.6L198.3 133.0L205.4 135.4L204.7 138.8L198.3 139.5L192.1 139.5ZM192.2 133.0L198.9 130.9L195.4 126.6L199.9 123.8L198.9 118.7L194.0 114.6L200.7 111.6L211.7 109.0L226.5 108.6L237.8 110.9L237.1 114.6L232.2 116.5L223.8 121.3L215.7 123.8L214.9 127.4L209.8 129.8L205.8 133.7L199.8 133.3ZM184.8 120.9L190.8 115.4L197.5 118.3L197.8 120.2L197.6 123.8L192.4 126.3L188.2 125.2ZM171.2 126.3L178.0 123.8L181.7 126.6L175.1 128.4ZM179.4 137.8L183.8 135.7L184.2 138.4L180.6 139.1ZM191.7 176.0L194.2 176.0L192.9 178.0L191.4 177.4ZM195.5 177.7L197.0 178.0L196.2 179.8L195.3 179.5ZM203.8 160.8L207.0 160.8L206.5 163.0L203.6 163.0ZM188.1 203.4L190.6 203.4L190.1 204.2L188.3 204.2ZM45.0 282.3L46.7 283.2L45.4 284.9L44.8 283.6Z"/>
  <path fill="#ffffff" d="M168.1 220.1L172.9 216.8L175.4 214.7L178.4 215.0L180.6 217.0L180.9 219.6L180.4 220.6L177.4 220.6L175.7 220.6L175.2 218.3L172.4 219.8L170.6 220.4ZM173.8 232.6L173.6 229.4L174.9 225.6L174.1 225.4L176.3 222.6L178.1 222.1L180.1 222.4L178.6 224.4L176.8 226.9L176.1 229.4L175.5 231.8L174.7 232.6ZM180.3 222.1L182.5 221.6L185.9 221.9L188.2 223.6L188.0 224.9L185.7 225.4L184.5 228.6L183.2 229.4L183.3 227.4L182.0 226.9L180.8 227.6L182.4 224.4ZM181.0 232.6L181.8 231.8L189.1 229.6L189.2 230.1L187.1 231.3L184.2 233.1L181.6 233.1ZM187.8 228.6L191.1 227.1L194.2 226.4L194.1 228.1L191.8 228.6L189.2 228.9ZM194.5 115.4L197.6 118.0L199.3 120.2L200.0 123.1L197.9 125.6L195.4 126.3L196.8 123.8L197.7 120.5L196.0 118.3L193.0 115.7ZM199.8 118.0L206.7 117.4L214.1 117.6L206.4 118.5L199.5 119.4ZM234.3 113.5L225.0 115.4L217.3 116.5L224.8 116.3L234.1 114.4ZM199.0 124.1L205.1 123.8L209.6 124.1L204.9 124.7L198.8 124.9ZM194.9 128.4L199.6 127.7L204.1 128.1L199.3 128.9ZM212.8 130.2L208.3 129.5L204.7 128.8L208.1 130.3ZM219.1 122.0L214.8 121.3L211.1 120.9L214.6 122.2ZM205.3 111.1L207.7 113.1L211.3 110.7ZM217.6 108.8L218.6 110.9L222.0 108.8ZM229.4 108.8L230.3 111.2L233.7 109.3ZM194.6 142.1L194.4 146.1L195.2 149.4L196.3 146.1L197.7 142.1ZM202.3 142.5L202.4 145.5L204.5 146.5L207.8 145.8L204.7 145.3L203.7 143.2ZM221.6 155.5L217.4 156.5L220.4 156.8ZM220.3 152.0L215.7 153.3L218.7 153.9ZM215.2 149.4L210.7 150.7L213.5 151.3ZM224.4 161.8L220.3 162.4L223.4 163.3ZM211.9 164.2L215.2 163.9L215.6 166.1L212.2 167.0ZM141.6 149.6L146.4 149.2L148.7 149.7L146.1 150.2ZM158.8 144.1L158.7 147.8L160.4 147.1L160.8 143.8ZM154.2 144.5L155.0 146.8L156.3 146.1L156.0 144.5ZM185.8 134.0L190.3 134.3L193.1 135.4L189.3 135.2ZM156.4 134.7L158.9 136.7L161.4 136.1L158.9 134.0ZM153.6 160.8L153.8 164.9L155.2 163.9L155.7 160.5ZM374.9 228.9L376.0 227.6L376.2 226.1L377.8 223.9L378.6 221.9L379.6 220.4L381.3 220.4L382.6 221.6L384.5 221.6L382.7 223.4L384.3 225.6L385.7 225.9L387.7 224.4L389.7 223.4L386.9 221.4L387.4 220.4L390.3 219.3L392.8 218.8L394.2 219.1L392.4 221.4L391.6 223.1L390.1 224.1L391.2 225.1L392.6 226.1L394.2 227.1L395.3 228.1L397.6 229.6L398.8 231.6L398.7 233.1L396.1 234.3L393.5 234.4L390.9 234.0L389.4 233.3L387.5 231.7L384.3 231.8L381.3 233.5L378.7 233.9L377.1 233.8L375.1 232.8L375.1 231.8L374.4 230.4ZM373.5 235.4L374.5 234.3L376.9 234.3L378.5 234.9L377.0 235.7L374.9 235.9ZM408.5 222.6L409.4 221.9L411.0 220.6L414.4 219.8L417.8 219.8L418.4 223.6L415.2 224.4L414.8 225.6L413.6 226.1L415.5 228.9L417.7 230.6L418.2 233.1L418.9 235.5L421.8 234.3L421.5 236.0L419.9 237.9L420.9 243.2L419.4 244.2L416.8 244.6L414.4 243.2L412.3 242.5L412.0 240.6L412.8 236.2L414.2 235.7L412.1 233.5L410.8 231.8L409.1 229.4L408.8 227.4L407.5 225.4Z"/>
</svg>

<div class="t" style="left:27.00px;top:18.24px;font-size:27.00px;line-height:27.00px;color:#962BAE;transform:scaleX(0.9295);font-weight:700;">GLOBAL CRITICAL INFRASTRUCTURE PROTECTION</div>
<div class="t" style="left:27.00px;top:52.14px;font-size:27.00px;line-height:27.00px;color:#962BAE;transform:scaleX(0.9611);font-weight:700;">MARKET</div>
<div class="t" style="left:27.00px;top:85.02px;font-size:16.40px;line-height:16.40px;color:#333;transform:scaleX(1.0530);">Value (US$ Mn) Analysis, By Region, 2022</div>

<div id="band"></div>

<!-- region labels -->
<svg class="abs" width="940" height="525" style="left:0;top:0;filter:drop-shadow(1.5px 2px 1.5px rgba(90,60,0,.45))"><polygon points="28.8,247.5 40.5,204.5 124.5,204.5 135.5,247.5 124.5,293.8 40.5,293.8" fill="#FEBD10"/></svg><div class="t" style="left:60.85px;top:211.17px;font-size:16.10px;line-height:16.10px;color:#151515;transform:scaleX(0.9761);font-weight:700;">North</div><div class="t" style="left:51.80px;top:229.77px;font-size:16.10px;line-height:16.10px;color:#151515;transform:scaleX(0.9442);font-weight:700;">America</div><div class="t" style="left:50.65px;top:248.87px;font-size:16.10px;line-height:16.10px;color:#151515;transform:scaleX(0.9941);font-weight:700;">46,838.4</div><div class="t" style="left:48.35px;top:267.47px;font-size:16.10px;line-height:16.10px;color:#151515;transform:scaleX(0.9589);font-weight:700;">(US$ Mn)</div>
<svg class="abs" width="940" height="525" style="left:0;top:0;filter:drop-shadow(1.5px 2px 1.5px rgba(90,60,0,.45))"><polygon points="253.8,232.5 263.0,215.5 328.8,215.5 338.0,232.5 328.8,250.0 263.0,250.0" fill="#FEBD10"/></svg><div class="t" style="left:269.60px;top:223.87px;font-size:16.10px;line-height:16.10px;color:#151515;transform:scaleX(0.9376);font-weight:700;">Europe</div>
<svg class="abs" width="940" height="525" style="left:0;top:0;filter:drop-shadow(1.5px 2px 1.5px rgba(90,60,0,.45))"><polygon points="382.5,323.8 392.0,293.0 470.0,293.0 480.0,323.8 470.0,353.8 392.0,353.8" fill="#FEBD10"/></svg><div class="t" style="left:405.10px;top:295.12px;font-size:16.10px;line-height:16.10px;color:#151515;transform:scaleX(1.0004);font-weight:700;">Middle</div><div class="t" style="left:415.10px;top:313.87px;font-size:16.10px;line-height:16.10px;color:#151515;transform:scaleX(0.9115);font-weight:700;">East</div><div class="t" style="left:393.73px;top:332.62px;font-size:16.10px;line-height:16.10px;color:#151515;transform:scaleX(0.9439);font-weight:700;">and Africa</div>
<svg class="abs" width="940" height="525" style="left:0;top:0;filter:drop-shadow(1.5px 2px 1.5px rgba(90,60,0,.45))"><polygon points="515.8,277.3 524.3,256.2 589.3,256.2 598.0,277.5 589.8,299.9 524.3,299.9" fill="#FEBD10"/></svg><div class="t" style="left:538.25px;top:260.12px;font-size:16.10px;line-height:16.10px;color:#151515;transform:scaleX(0.9271);font-weight:700;">Asia-</div><div class="t" style="left:533.50px;top:278.87px;font-size:16.10px;line-height:16.10px;color:#151515;transform:scaleX(0.8862);font-weight:700;">Pacific</div>
<svg class="abs" width="940" height="525" style="left:0;top:0;filter:drop-shadow(1.5px 2px 1.5px rgba(90,60,0,.45))"><polygon points="135.0,393.8 145.0,373.8 213.8,373.8 223.0,393.8 213.8,414.5 145.0,414.5" fill="#FEBD10"/></svg><div class="t" style="left:157.70px;top:375.12px;font-size:16.10px;line-height:16.10px;color:#151515;transform:scaleX(0.9209);font-weight:700;">South</div><div class="t" style="left:148.70px;top:394.37px;font-size:16.10px;line-height:16.10px;color:#151515;transform:scaleX(0.9442);font-weight:700;">America</div>

<!-- panel 1 -->
<div class="pout" style="left:686.6px;top:10.35px;width:235.9px;height:230.55px;"></div>
<div class="pin" style="left:690.5px;top:14.25px;width:228.1px;height:222.75px;"></div>
<div class="box" style="left:701px;top:166.8px;width:207.5px;height:61px;"></div>
<svg class="abs" style="left:740px;top:25px" width="140" height="130" viewBox="740 25 140 130">
  <defs>
    <linearGradient id="gpk" x1="0" y1="0" x2="0" y2="1"><stop offset="0" stop-color="#FFA9C6"/><stop offset="0.55" stop-color="#FF8CB0"/><stop offset="1" stop-color="#FB6F9C"/></linearGradient>
    <linearGradient id="glv" x1="0" y1="0" x2="0" y2="1"><stop offset="0" stop-color="#E4D6FF"/><stop offset="1" stop-color="#B59CFF"/></linearGradient>
    <linearGradient id="gpu" x1="0" y1="0" x2="0" y2="1"><stop offset="0" stop-color="#C386FB"/><stop offset="1" stop-color="#9A5EFF"/></linearGradient>
  </defs>
  <!-- pink quarter -->
  <path fill="url(#gpk)" stroke="url(#gpk)" stroke-width="3" stroke-linejoin="round" d="M805.2 38.4 L805.2 85.6 L758.4 85.6 A47 47 0 0 1 805.2 38.4Z"/>
  <!-- lavender slice -->
  <path fill="url(#glv)" stroke="url(#glv)" stroke-width="3" stroke-linejoin="round" d="M758.4 95.5 L805.2 95.5 L790 140.2 A47.5 47.5 0 0 1 758.4 95.5Z"/>
  <!-- big purple slice -->
  <path fill="url(#gpu)" stroke="url(#gpu)" stroke-width="3" stroke-linejoin="round" d="M814.4 52.2 A45.3 45.3 0 1 1 799.6 139.6 L814.4 96Z"/>
</svg>

<!-- panel 2 -->
<div class="pout" style="left:686.6px;top:254.1px;width:235.9px;height:230.5px;"></div>
<div class="pin" style="left:690.5px;top:258px;width:228.1px;height:222.7px;"></div>
<div class="box" style="left:701px;top:408px;width:206.5px;height:60.5px;"></div>
<svg class="abs" style="left:740px;top:270px" width="130" height="125" viewBox="740 270 130 125">
  <defs>
    <linearGradient id="gb1" x1="0" y1="0" x2="0" y2="1"><stop offset="0" stop-color="#DDD0FF"/><stop offset="1" stop-color="#AE9BFF"/></linearGradient>
    <linearGradient id="gar" x1="0" y1="0" x2="0" y2="1"><stop offset="0" stop-color="#D9CCFF"/><stop offset="1" stop-color="#B7A5FF"/></linearGradient>
  </defs>
  <rect x="750" y="386" width="108" height="2.6" rx="1.2" fill="#DCC6F6"/>
  <path fill="url(#gb1)" d="M760 385V365.5a2.5 2.5 0 0 1 2.5-2.5h10.8a2.5 2.5 0 0 1 2.5 2.5V385Z"/>
  <path fill="#D07FE0" d="M783.8 385V352.5a2.5 2.5 0 0 1 2.5-2.5h11.2a2.5 2.5 0 0 1 2.5 2.5V385Z"/>
  <path fill="url(#gb1)" d="M808 385V339.5a2.5 2.5 0 0 1 2.5-2.5h11.2a2.5 2.5 0 0 1 2.5 2.5V385Z"/>
  <path fill="#D07FE0" d="M831.8 385V326.3a2.5 2.5 0 0 1 2.5-2.5h11.2a2.5 2.5 0 0 1 2.5 2.5V385Z"/>
  <!-- arrow -->
  <path fill="url(#gar)" stroke="url(#gar)" stroke-width="1.5" stroke-linejoin="round" d="M765.5 335.8 C785 329 806 311 821.4 292.3 L817.6 288.2 L836.7 282.2 L838.4 303 L832.9 299 C824 316 800 336 766.5 338.4 Z"/>
</svg>
<div class="t" style="left:737.05px;top:173.96px;font-size:16.70px;line-height:16.70px;color:#8F2CA8;transform:scaleX(1.0423);">Total Market Size</div>
<div class="t" style="left:709.00px;top:193.38px;font-size:27.20px;line-height:27.20px;color:#8F2CA8;transform:scaleX(1.0295);font-weight:700;font-style:italic;">1,14,240</div>
<div class="t" style="left:826.90px;top:201.89px;font-size:16.90px;line-height:16.90px;color:#8F2CA8;transform:scaleX(1.0193);">(US$ Mn)</div>
<div class="t" style="left:731.25px;top:415.70px;font-size:16.60px;line-height:16.60px;color:#8F2CA8;transform:scaleX(1.0059);">CAGR 2023 – 2032</div>
<div class="t" style="left:765.00px;top:435.22px;font-size:27.50px;line-height:27.50px;color:#8F2CA8;transform:scaleX(1.0003);font-weight:700;font-style:italic;">16.4%</div>

<!-- footer logo -->
<div id="pill"></div>
<svg class="abs" style="left:34px;top:484px" width="40" height="30" viewBox="34 484 40 30">
  <defs><linearGradient id="glogo" x1="38" y1="490" x2="68" y2="508" gradientUnits="userSpaceOnUse"><stop offset="0" stop-color="#A22FC2"/><stop offset="0.5" stop-color="#8233C4"/><stop offset="1" stop-color="#5B3FCB"/></linearGradient></defs>
  <g fill="none" stroke="url(#glogo)" stroke-width="3.5" stroke-linecap="round" stroke-linejoin="round">
    <path d="M40.2 496.2 A6.9 6.9 0 0 1 54 496.2 L54 503.2 Q54 508.8 59.6 508.8 L63.2 508.8"/>
    <path d="M47 497.6 L47 502.8"/>
    <path d="M60.9 492.6 L60.9 502.8"/>
    <path d="M67.5 490.6 L67.5 502.8"/>
  </g>
  <circle cx="40" cy="502.3" r="2" fill="#A22FC2"/>
</svg>
<div class="t" style="left:819.70px;top:507.23px;font-size:12.60px;line-height:12.60px;color:#46304F;transform:scaleX(0.9214);font-weight:700;">Source: market.us</div>
<div class="t" style="left:78.00px;top:486.77px;font-size:17.40px;line-height:17.40px;color:#2A2D3A;transform:scaleX(1.1495);font-weight:700;-webkit-text-stroke:0.45px #2A2D3A;">market</div>
<div class="abs" style="left:144.9px;top:499.0px;width:2.9px;height:2.7px;border-radius:0.6px;background:#A22FD0"></div>
<div class="t" style="left:148.60px;top:486.77px;font-size:17.40px;line-height:17.40px;color:#2A2D3A;transform:scaleX(1.0391);font-weight:700;-webkit-text-stroke:0.45px #2A2D3A;">us</div>
<div class="t" style="left:78.00px;top:504.75px;font-size:3.90px;line-height:3.90px;color:#4A4F5E;transform:scaleX(1.3060);font-weight:700;">ONE STOP SHOP FOR THE REPORTS</div>

</body>
</html>
